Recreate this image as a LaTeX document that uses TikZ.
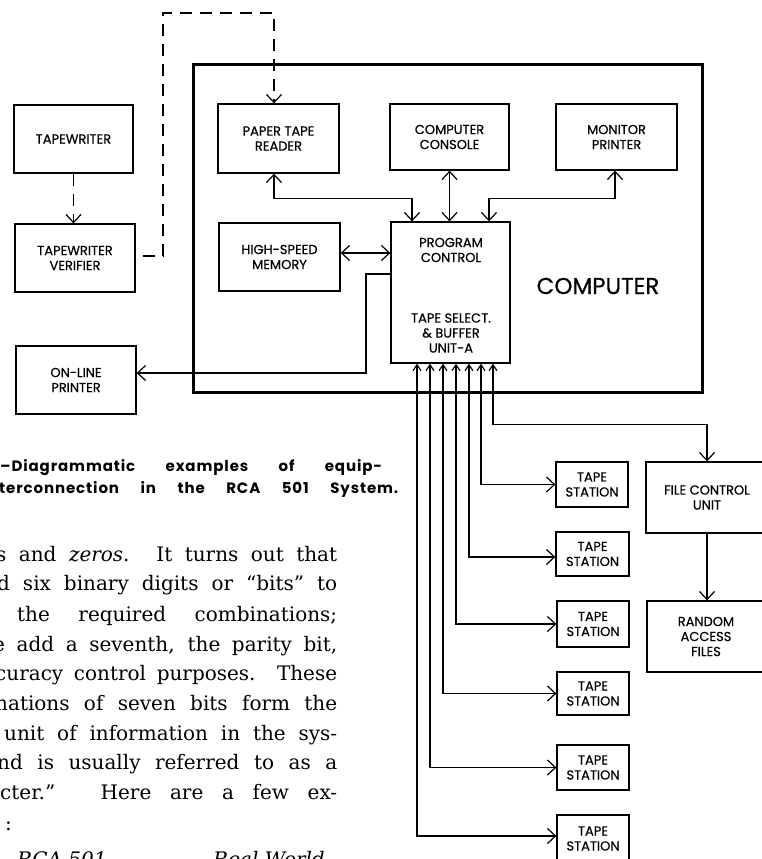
\documentclass[tikz,border=0pt]{standalone}
\usepackage{fontspec}
\usetikzlibrary{arrows.meta,calc}
\newfontfamily\labfont{Poppins}[FakeBold=0.5]
\newfontfamily\capfont{Poppins}[LetterSpace=6]
\newfontfamily\bodyfont{DejaVu Serif}
\tikzset{
  blk/.style={draw, line width=1.3pt, inner sep=0pt, align=center,
    font=\labfont\fontsize{13}{15}\selectfont},
  lab/.style={inner sep=0pt, align=center, font=\labfont\fontsize{13}{15}\selectfont},
  conn/.style={line width=1.2pt},
  dashconn/.style={line width=1.2pt, dash pattern=on 12pt off 8pt},
  >={Straight Barb[length=8pt,width=15pt]},
  smalltip/.tip={Straight Barb[length=6pt,width=8pt]},
  bodyline/.style={anchor=base west, inner sep=0pt, font=\bodyfont\fontsize{20}{24}\selectfont},
  capline/.style={anchor=base west, inner sep=0pt, font=\capfont\bfseries\fontsize{15}{18}\selectfont}
}
\begin{document}
\begin{tikzpicture}[x=1pt,y=-1pt]
\useasboundingbox (0,0) rectangle (762,859);
\clip (0,0) rectangle (762,859);

% computer frame
\node[draw, line width=3pt, inner sep=0pt, minimum width=509pt, minimum height=327pt] (comp) at (447.5,228.5) {};
\node[inner sep=0pt, font=\labfont\fontsize{23}{27}\selectfont] (complab) at (598,286) {COMPUTER};

% boxes
\node[blk, minimum width=119pt, minimum height=68pt] (tw) at (73.5,139) {TAPEWRITER};
\node[blk, minimum width=120pt, minimum height=68pt] (twv) at (75,258) {TAPEWRITER\\VERIFIER};
\node[blk, minimum width=120pt, minimum height=68pt] (olp) at (76,380) {ON-LINE\\PRINTER};
\node[blk, minimum width=121pt, minimum height=69pt] (ptr) at (278.5,138.5) {PAPER TAPE\\READER};
\node[blk, minimum width=119pt, minimum height=66pt] (cc) at (449.5,137) {COMPUTER\\CONSOLE};
\node[blk, minimum width=121pt, minimum height=66pt] (mp) at (616.5,137) {MONITOR\\PRINTER};
\node[blk, minimum width=121pt, minimum height=68pt] (hsm) at (279.5,257) {HIGH-SPEED\\MEMORY};
\node[blk, minimum width=119pt, minimum height=141pt] (pc) at (450.5,292.5) {};
\node[lab] (pcl1) at (451,250) {PROGRAM\\CONTROL};
\node[lab] (pcl2) at (451,333) {TAPE SELECT.\\\& BUFFER\\UNIT-A};

\node[blk, minimum width=72pt, minimum height=45pt] (ts1) at (592,484.5) {TAPE\\STATION};
\node[blk, minimum width=73pt, minimum height=44pt] (ts2) at (592.5,554) {TAPE\\STATION};
\node[blk, minimum width=72pt, minimum height=46pt] (ts3) at (593,624) {TAPE\\STATION};
\node[blk, minimum width=72pt, minimum height=43pt] (ts4) at (593,693.5) {TAPE\\STATION};
\node[blk, minimum width=72pt, minimum height=45pt] (ts5) at (593,767.5) {TAPE\\STATION};
\node[blk, minimum width=72pt, minimum height=47pt] (ts6) at (593,838.5) {TAPE\\STATION};
\node[blk, minimum width=122pt, minimum height=71pt] (fcu) at (707,497.5) {FILE CONTROL\\UNIT};
\node[blk, minimum width=118pt, minimum height=71pt] (raf) at (706,636.5) {RANDOM\\ACCESS\\FILES};

% dashed paper tape path
\coordinate (dtop) at (274,13);
\draw[dashconn,->] (tw.south) -- (tw.south |- twv.north);
\draw[dashconn,->] ([xshift=7pt,yshift=2pt]twv.east) -- (163,256) |- (dtop) -- (dtop |- ptr.north);

% computer internal connections
\draw[conn,<->] ([xshift=-4.5pt]ptr.south) -- ++(0,25) -| ([xshift=-38.5pt]pc.north);
\draw[conn,<->] (cc.south) -- (cc.south |- pc.north);
\draw[conn,<->] ([xshift=-1.5pt]mp.south) -- ++(0,28) -| ([xshift=38.5pt]pc.north);
\draw[conn,<->] ([yshift=4pt]hsm.east) -- ([yshift=4pt]hsm.east -| pc.west);
\coordinate (bend) at (366,373);
\draw[conn,->] ([yshift=18.5pt]pc.west) -| (bend) -- (bend -| olp.east);

% tape lines
\draw[conn,{smalltip}->] ([xshift=30.5pt]pc.south) |- (ts1.west);
\draw[conn,{smalltip}->] ([xshift=18.5pt]pc.south) |- ([yshift=-3pt]ts2.west);
\draw[conn,{smalltip}->] ([xshift=5.5pt]pc.south) |- (ts3.west);
\draw[conn,{smalltip}->] ([xshift=-7.5pt]pc.south) |- (ts4.west);
\draw[conn,{smalltip}->] ([xshift=-20.5pt]pc.south) |- (ts5.west);
\draw[conn,{smalltip}->] ([xshift=-33.5pt]pc.south) |- ([yshift=2.5pt]ts6.west);
\draw[conn,{smalltip}->] ([xshift=42.5pt]pc.south) -- ++(0,61) -| (fcu.north);
\draw[conn,->] (fcu.south) -- (fcu.south |- raf.north);

% caption
\node[capline] (cap1) at (0,471) {\makebox[382pt][s]{–Diagrammatic examples of equip-}};
\node[capline] (cap2) at (-1,493) {\makebox[399pt][s]{terconnection in the RCA 501 System.}};

% body text
\node[bodyline] (b1) at (-4,561) {\makebox[341pt][s]{s and \textit{zeros}. It turns out that}};
\node[bodyline] (b2) at (-3,590) {\makebox[340pt][s]{d six binary digits or “bits” to}};
\node[bodyline] (b3) at (17,621) {\makebox[320pt][s]{the required combinations;}};
\node[bodyline] (b4) at (-7,651) {\makebox[344pt][s]{e add a seventh, the parity bit,}};
\node[bodyline] (b5) at (-5,680) {\makebox[342pt][s]{curacy control purposes. These}};
\node[bodyline] (b6) at (-5,710) {\makebox[342pt][s]{nations of seven bits form the}};
\node[bodyline] (b7) at (4,740) {\makebox[333pt][s]{unit of information in the sys-}};
\node[bodyline] (b8) at (-3,769) {\makebox[340pt][s]{nd is usually referred to as a}};
\node[bodyline] (b9) at (0,799) {\makebox[337pt][s]{cter.” Here are a few ex-}};
\node[bodyline] (b10) at (5,830) {:};
\node[bodyline] (b11) at (17,866) {\textit{RCA 501}};
\node[bodyline] (b12) at (213,866) {\textit{Real World}};
\end{tikzpicture}
\end{document}
